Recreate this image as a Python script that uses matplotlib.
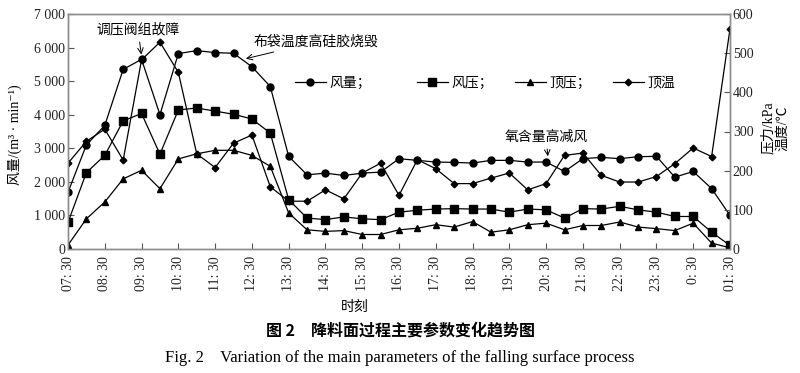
import numpy as np
import matplotlib
matplotlib.use("Agg")
from matplotlib import pyplot as plt

plt.rcParams['font.family'] = ['Liberation Serif', 'Noto Sans CJK SC', 'DejaVu Sans']
plt.rcParams['axes.unicode_minus'] = False

# time axis: every half hour from 07:30 to 01:30
hours = np.arange(37) * 0.5
tick_pos = np.arange(19)
tick_labels = ['07: 30', '08: 30', '09: 30', '10: 30', '11: 30', '12: 30', '13: 30',
               '14: 30', '15: 30', '16: 30', '17: 30', '18: 30', '19: 30', '20: 30',
               '21: 30', '22: 30', '23: 30', '0: 30', '01: 30']

# 风量 m3/min (left axis)
fengliang = [1690, 3100, 3680, 5350, 5650, 4000, 5820, 5910, 5850, 5830,
             5430, 4840, 2760, 2210, 2260, 2190, 2260, 2290, 2690, 2640,
             2590, 2580, 2560, 2640, 2640, 2590, 2590, 2310, 2690, 2730,
             2690, 2750, 2760, 2140, 2310, 1800, 1000]
# 风压 kPa (right axis)
fengya = [68, 195, 239, 327, 346, 242, 355, 360, 352, 344,
          332, 296, 126, 79, 75, 82, 77, 75, 94, 99,
          102, 103, 102, 102, 94, 102, 100, 79, 103, 102,
          109, 100, 94, 83, 83, 43, 9]
# 顶压 kPa (right axis)
dingya = [10, 77, 120, 179, 201, 154, 230, 243, 252, 252,
          239, 211, 92, 49, 45, 47, 37, 37, 49, 53,
          62, 56, 70, 43, 49, 62, 66, 49, 60, 60,
          69, 56, 52, 47, 66, 15, 3]
# 顶温 ℃ (right axis)
dingwen = [219, 275, 306, 227, 483, 528, 451, 243, 208, 270,
           291, 159, 122, 122, 151, 128, 194, 219, 137, 228,
           205, 167, 167, 181, 194, 151, 167, 239, 245, 188,
           171, 171, 185, 218, 258, 236, 562]

left_ticks = [0, 1000, 2000, 3000, 4000, 5000, 6000, 7000]
left_labels = ['0', '1 000', '2 000', '3 000', '4 000', '5 000', '6 000', '7 000']
right_ticks = [0, 100, 200, 300, 400, 500, 600]

fig = plt.figure(figsize=(8, 3.73), dpi=100)
ax = fig.add_axes([68/800, 1-249/373, 662/800, 235/373])
ax2 = ax.twinx()

kw = dict(color='black', lw=0.9)
l1, = ax.plot(hours, fengliang, marker='o', ms=5, **kw)
l2, = ax2.plot(hours, fengya, marker='s', ms=5.5, **kw)
l3, = ax2.plot(hours, dingya, marker='^', ms=4.5, **kw)
l4, = ax2.plot(hours, dingwen, marker='D', ms=3.4, **kw)

ax.set_xlim(0, 18)
ax.set_ylim(0, 7000)
ax2.set_ylim(0, 600)
ax.set_xticks(tick_pos)
ax.set_xticklabels(tick_labels, rotation=90)
ax.set_yticks(left_ticks)
ax.set_yticklabels(left_labels)
ax2.set_yticks(right_ticks)

for a in (ax, ax2):
    for s in a.spines.values():
        s.set_color('#8c8c8c')
        s.set_linewidth(1.0)
    a.tick_params(direction='in', length=4, width=0.8, color='#555555',
                  labelsize=10, labelcolor='#222222', pad=2)
ax.tick_params(axis='x', pad=5)

# legend, one entry at a time so the gaps follow the original
labels = ['风量；', '风压；', '顶压；', '顶温']
lx = [295, 417, 515, 613]
for h, lab, x in zip([l1, l2, l3, l4], labels, lx):
    lg = fig.legend([h], [lab], loc='center left', bbox_to_anchor=(x/800, 1-83/373),
                    frameon=False, borderpad=0, borderaxespad=0, handlelength=2.2,
                    handletextpad=0.3, fontsize=10, numpoints=1)

# notes on the curves
arr = dict(arrowstyle='->', color='black', lw=0.7, shrinkA=2, shrinkB=1)
ax.annotate('调压阀组故障', xy=(2.0, 5750), xytext=(1.9, 6530),
            ha='center', va='center', fontsize=10, arrowprops=arr)
ax.annotate('布袋温度高硅胶烧毁', xy=(4.8, 5660), xytext=(5.05, 6170),
            ha='left', va='center', fontsize=10, arrowprops=arr)
ax.annotate('氧含量高减风', xy=(13.05, 2720), xytext=(13.0, 3340),
            ha='center', va='center', fontsize=10, arrowprops=arr)

fig.text(15/800, 1-135/373, '风量/(m³ · min⁻¹)', rotation=90,
         ha='center', va='center', fontsize=10)
fig.text(775/800, 1-128/373, '压力/kPa\n温度/℃', rotation=90, ha='center', va='center',
         fontsize=10, multialignment='center', linespacing=1.1)
fig.text(355/800, 1-307/373, '时刻', ha='center', va='center', fontsize=10)
fig.text(400/800, 1-331/373, '图 2　降料面过程主要参数变化趋势图', ha='center', va='center',
         fontsize=11.5, fontweight='bold', family=['Noto Sans CJK SC', 'DejaVu Sans'])
fig.text(400/800, 1-358/373, 'Fig. 2    Variation of the main parameters of the falling surface process',
         ha='center', va='center', fontsize=12)

fig.savefig('out.png', dpi=100)
